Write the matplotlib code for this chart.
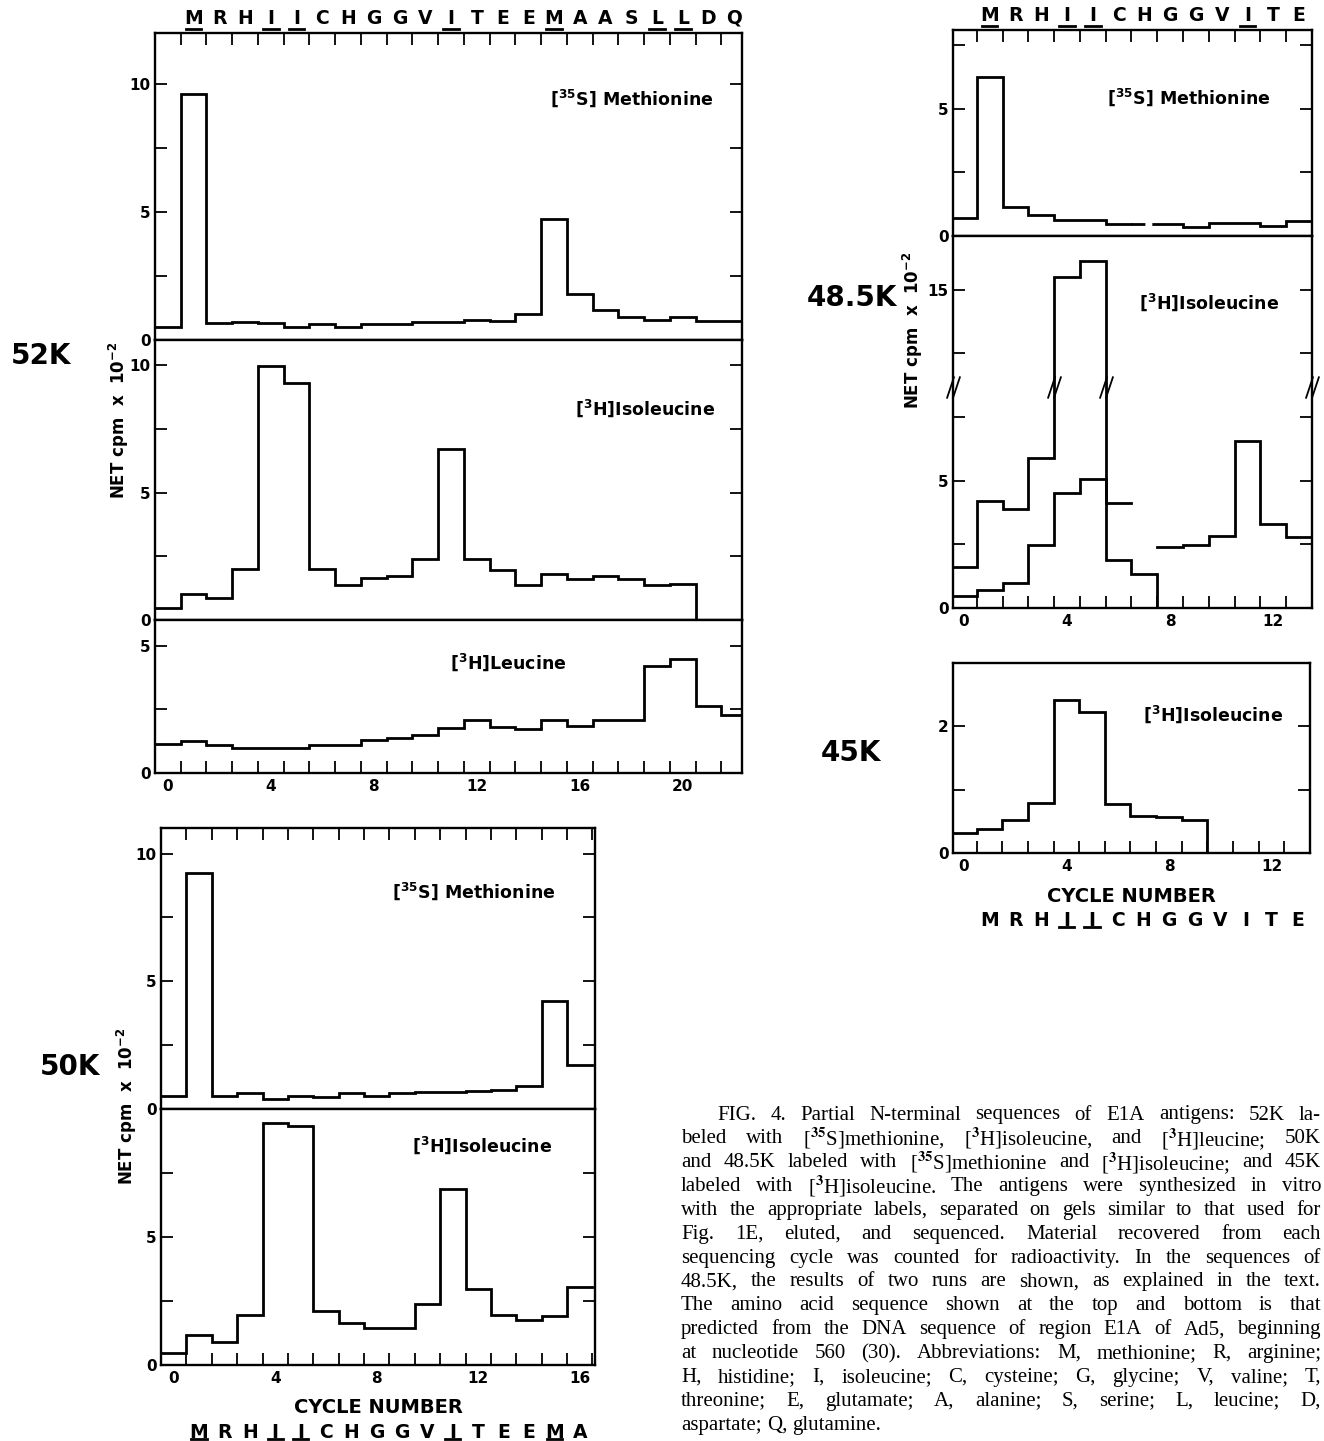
import matplotlib
matplotlib.use("Agg")
import matplotlib.pyplot as plt
import numpy as np
from matplotlib.path import Path

nan = np.nan

# ---- values (NET cpm x 10^-2, one value per cycle) ----
met_52 = [0.52, 9.6, 0.65, 0.71, 0.65, 0.52, 0.62, 0.52, 0.61, 0.62, 0.71, 0.71,
          0.80, 0.75, 1.0, 4.73, 1.81, 1.19, 0.90, 0.80, 0.88, 0.75, 0.75]
ile_52 = [0.46, 1.03, 0.86, 2.01, 9.97, 9.32, 2.0, 1.38, 1.64, 1.71, 2.41, 6.71,
          2.39, 1.95, 1.38, 1.82, 1.62, 1.72, 1.61, 1.37, 1.41]
leu_52 = [1.15, 1.27, 1.08, 1.0, 1.0, 1.0, 1.11, 1.11, 1.31, 1.38, 1.49, 1.76,
          2.09, 1.79, 1.74, 2.06, 1.85, 2.09, 2.09, 4.18, 4.49, 2.61, 2.26]
seq_52 = "MRHIICHGGVITEEMAASLLDQ"
mark_52 = [1, 4, 5, 11, 15, 19, 20]

met_50 = [0.49, 9.23, 0.52, 0.63, 0.39, 0.52, 0.46, 0.62, 0.52, 0.63, 0.66, 0.68,
          0.72, 0.75, 0.90, 4.23, 1.73]
ile_50 = [0.45, 1.19, 0.88, 1.95, 9.44, 9.35, 2.1, 1.65, 1.43, 1.43, 2.4, 6.88,
          2.97, 1.97, 1.75, 1.91, 3.03]
seq_50 = "MRHIICHGGVITEEMA"
mark_50 = [1, 4, 5, 11, 15]

met_485 = [0.69, 6.27, 1.15, 0.82, 0.63, 0.63, 0.46, 0.46, 0.46, 0.37, 0.52, 0.53,
           0.40, 0.59]
met_485_dashed = [7]                      # cycle drawn dashed
ile_485_a = [1.61, 4.2, 3.88, 5.9, 15.5, 16.1, 4.11, nan, 2.38, 2.48, 2.81, 6.57,
             3.29, 2.77]
ile_485_b = [0.48, 0.72, 0.98, 2.48, 4.5, 5.07, 1.87, 1.33]
seq_485 = "MRHIICHGGVITE"
mark_485 = [1, 4, 5, 11]
brk_485 = 8.68                            # broken y axis: values above skip 2.5
skip_485 = 2.5

ile_45 = [0.31, 0.38, 0.52, 0.79, 2.42, 2.23, 0.77, 0.59, 0.57, 0.52]
mark_45 = [4, 5]

caption = [
    "FIG. 4. Partial N-terminal sequences of E1A antigens: 52K la-",
    "beled with [$^{35}$S]methionine, [$^{3}$H]isoleucine, and [$^{3}$H]leucine; 50K",
    "and 48.5K labeled with [$^{35}$S]methionine and [$^{3}$H]isoleucine; and 45K",
    "labeled with [$^{3}$H]isoleucine. The antigens were synthesized in vitro",
    "with the appropriate labels, separated on gels similar to that used for",
    "Fig. 1E, eluted, and sequenced. Material recovered from each",
    "sequencing cycle was counted for radioactivity. In the sequences of",
    "48.5K, the results of two runs are shown, as explained in the text.",
    "The amino acid sequence shown at the top and bottom is that",
    "predicted from the DNA sequence of region E1A of Ad5, beginning",
    "at nucleotide 560 (30). Abbreviations: M, methionine; R, arginine;",
    "H, histidine; I, isoleucine; C, cysteine; G, glycine; V, valine; T,",
    "threonine; E, glutamate; A, alanine; S, serine; L, leucine; D,",
    "aspartate; Q, glutamine.",
]

W, H = 1324, 1441
plt.rcParams['font.family'] = 'DejaVu Sans'
plt.rcParams['font.weight'] = 'bold'
plt.rcParams['mathtext.fontset'] = 'dejavusans'
plt.rcParams['mathtext.default'] = 'bf'

fig = plt.figure(figsize=(W / 100, H / 100), dpi=100)
fig.patch.set_facecolor('white')


def box(l, t, r, b):
    return fig.add_axes([l / W, 1 - b / H, (r - l) / W, (b - t) / H])


def style(ax, xlim, ylim, yt, ylab, top=False, bottom=False, xlab=None):
    ax.set_xlim(xlim)
    ax.set_ylim(ylim)
    for s in ax.spines.values():
        s.set_linewidth(1.7)
    ax.set_yticks(yt)
    ax.set_yticklabels(ylab)
    ax.tick_params(axis='y', direction='in', length=8.5, width=1.3, left=True,
                   right=True, labelsize=11, pad=3)
    ax.set_xticks(np.arange(0.5, xlim[1], 1))
    ax.set_xticklabels([])
    ax.tick_params(axis='x', which='major', direction='in', length=8.5, width=1.3,
                   top=top, bottom=bottom)
    if xlab is not None:
        ax.set_xticks(xlab, minor=True)
        ax.set_xticklabels([str(v) for v in xlab], minor=True)
        ax.tick_params(axis='x', which='minor', length=0, labelsize=11, pad=4,
                       bottom=True, labelbottom=True)


def steps(ax, vals, drop=False, **kw):
    vals = np.asarray(vals, float)
    edges = np.arange(len(vals) + 1) - 0.5
    x = np.repeat(edges, 2)[1:-1]
    y = np.repeat(vals, 2)
    if drop:
        x = np.append(x, edges[-1])
        y = np.append(y, 0)
    ax.plot(x, y, color='k', lw=2.0, solid_joinstyle='miter', **kw)


def sequence(ax, seq, marked, where, size=13.5):
    h = ax.get_position().height * H
    for i, ch in enumerate(seq):
        c = i + 1
        if where == 'top':
            yl, yu = 1 + 5 / h, 1 + 4 / h
            va = 'bottom'
        else:
            yl, yu = -58 / h, -74 / h
            va = 'top'
        ax.text(c, yl, ch, transform=ax.get_xaxis_transform(), ha='center',
                va=va, fontsize=size, clip_on=False)
        if c in marked:
            ax.plot([c - 0.3, c + 0.3], [yu, yu], color='k', lw=2,
                    transform=ax.get_xaxis_transform(), clip_on=False)


def label(x, y, iso, name):
    fig.text(x / W, 1 - y / H, r"$\left[{}^{%s}\mathbf{%s}\right]$" % iso + name,
             ha='center', va='center', fontsize=12.5)


def ylabel(x, y):
    fig.text(x / W, 1 - y / H, r"NET cpm  x  10$^{-2}$", rotation=90,
             fontsize=12, ha='center', va='center')


# ---------------- 52K ----------------
xl52 = (-0.5, 22.3)
a1 = box(155, 33, 742, 340)
style(a1, xl52, (0, 12), [0, 2.5, 5, 7.5, 10], ['0', '', '5', '', '10'], top=True)
steps(a1, met_52)
sequence(a1, seq_52, mark_52, 'top')

a2 = box(155, 340, 742, 620)
style(a2, xl52, (0, 11), [0, 2.5, 5, 7.5, 10], ['0', '', '5', '', '10'])
steps(a2, ile_52, drop=True)

a3 = box(155, 620, 742, 773)
style(a3, xl52, (0, 6), [0, 2.5, 5], ['0', '', '5'], bottom=True,
      xlab=[0, 4, 8, 12, 16, 20])
steps(a3, leu_52)

label(632, 98, ('35', 'S'), ' Methionine')
label(645, 408, ('3', 'H'), 'Isoleucine')
label(508, 662, ('3', 'H'), 'Leucine')
fig.text(41 / W, 1 - 356 / H, "52K", fontsize=20, ha='center', va='center')
ylabel(119, 420)

# ---------------- 50K ----------------
xl50 = (-0.5, 16.6)
b1 = box(161, 828, 595, 1109)
style(b1, xl50, (0, 11), [0, 2.5, 5, 7.5, 10], ['0', '', '5', '', '10'], top=True)
steps(b1, met_50)

b2 = box(161, 1109, 595, 1365)
style(b2, xl50, (0, 10), [0, 2.5, 5, 7.5], ['0', '', '5', ''], bottom=True,
      xlab=[0, 4, 8, 12, 16])
steps(b2, ile_50)
sequence(b2, seq_50, mark_50, 'bottom')

label(474, 891, ('35', 'S'), ' Methionine')
label(482, 1145, ('3', 'H'), 'Isoleucine')
fig.text(70 / W, 1 - 1067 / H, "50K", fontsize=20, ha='center', va='center')
ylabel(127, 1106)
b2.text(0.5, -0.13, "CYCLE NUMBER", transform=b2.transAxes, ha='center',
        va='top', fontsize=14)

# ---------------- 48.5K ----------------
xl48 = (-0.42, 13.5)
c1 = box(953, 30, 1312, 236)
style(c1, xl48, (0, 8.1), [0, 2.5, 5, 7.5], ['0', '', '5', ''], top=True)
solid = [nan if i in met_485_dashed else v for i, v in enumerate(met_485)]
steps(c1, solid)
for i in met_485_dashed:
    c1.plot([i - 0.5, i + 0.5], [met_485[i], met_485[i]], color='k', lw=2.0,
            dashes=(5, 2.5, 1.5, 2.5))
sequence(c1, seq_485, mark_485, 'top')

c2 = box(953, 236, 1312, 608)
pos_a = [v - skip_485 if v > brk_485 else v for v in ile_485_a]
style(c2, xl48, (0, 14.6), [0, 2.5, 5, 7.5, 10, 12.5],
      ['0', '', '5', '', '', '15'], bottom=True, xlab=[0, 4, 8, 12])
steps(c2, pos_a)
steps(c2, ile_485_b, drop=True)
brk = Path([(-0.9, -1.5), (0.1, 1.5), (-0.1, -1.5), (0.9, 1.5)],
           [Path.MOVETO, Path.LINETO, Path.MOVETO, Path.LINETO])
c2.plot([xl48[0], 3.5, 5.5, xl48[1]], [brk_485] * 4, ls='none', marker=brk,
        markersize=16, mew=1.3, color='k', clip_on=False)

label(1189, 97, ('35', 'S'), ' Methionine')
label(1209, 302, ('3', 'H'), 'Isoleucine')
fig.text(852 / W, 1 - 298 / H, "48.5K", fontsize=20, ha='center', va='center')
ylabel(913, 330)

# ---------------- 45K ----------------
d1 = box(953, 663, 1310, 853)
style(d1, xl48, (0, 3), [0, 1, 2], ['0', '', '2'], bottom=True,
      xlab=[0, 4, 8, 12])
steps(d1, ile_45, drop=True)
sequence(d1, "MRHIICHGGVITE", mark_45, 'bottom')
d1.text(0.5, -0.18, "CYCLE NUMBER", transform=d1.transAxes, ha='center',
        va='top', fontsize=14)
label(1213, 714, ('3', 'H'), 'Isoleucine')
fig.text(851 / W, 1 - 753 / H, "45K", fontsize=20, ha='center', va='center')

# ---------------- caption (justified) ----------------
fig.canvas.draw()
rend = fig.canvas.get_renderer()
right = 1321
for i, line in enumerate(caption):
    y = 1 - (1115 + i * 23.85) / H
    x0 = 717 if i == 0 else 681
    words = line.split(' ')
    txts = [fig.text(0, y, w, fontsize=15, family='Liberation Serif',
                     fontweight='normal', math_fontfamily='stix', va='center')
            for w in words]
    widths = [t.get_window_extent(rend).width for t in txts]
    if i == len(caption) - 1:
        gap = 5
    else:
        gap = max(2.5, (right - x0 - sum(widths)) / (len(words) - 1))
    x = x0
    for t, wd in zip(txts, widths):
        t.set_x(x / W)
        x += wd + gap

fig.savefig("out.png", dpi=100, facecolor='white')
